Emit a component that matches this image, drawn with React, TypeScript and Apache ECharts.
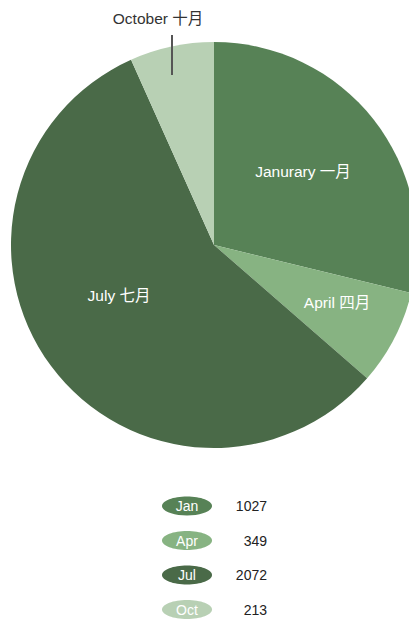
import React, { useEffect, useRef } from "react";
import * as echarts from "echarts";

const months = ["Jan", "Apr", "Jul", "Oct"];
const sliceLabels = ["Janurary 一月", "April 四月", "July 七月", "October 十月"];
const totals = [1027, 349, 2072, 213];
// share of the circle (percent)
const sliceShares = [28.8, 7.6, 56.9, 6.7];

const palette = ["#578256", "#87b382", "#4a6a48", "#b8d0b4"];
const FONT = "'Liberation Sans', Arial, 'Noto Sans CJK SC', sans-serif";

export default function App() {
  const ref = useRef<HTMLDivElement>(null);
  useEffect(() => {
    document.body.style.margin = "0";
    const chart = echarts.init(ref.current!, null, { renderer: "svg" });
    const labelPos: Record<number, [number, number]> = {
      0: [303, 171],
      1: [337, 302],
      2: [119, 295],
      3: [158, 18],
    };
    const rowY = [506, 540.5, 575, 609.5];
    const graphics: any[] = [
      {
        type: "line",
        z: 100,
        shape: { x1: 172, y1: 35, x2: 172, y2: 75 },
        style: { stroke: "#555", lineWidth: 2 },
      },
    ];
    months.forEach((m, i) => {
      graphics.push({
        type: "ellipse",
        shape: { cx: 187, cy: rowY[i], rx: 25, ry: 9.5 },
        style: { fill: palette[i] },
      });
      graphics.push({
        type: "text",
        x: 187,
        y: rowY[i],
        style: {
          text: m,
          fill: "#fff",
          font: `14px ${FONT}`,
          align: "center",
          verticalAlign: "middle",
        },
      });
      graphics.push({
        type: "text",
        x: 267,
        y: rowY[i],
        style: {
          text: String(totals[i]),
          fill: "#222",
          font: `14px ${FONT}`,
          align: "right",
          verticalAlign: "middle",
        },
      });
    });
    chart.setOption({
      animation: false,
      graphic: graphics,
      series: [
        {
          type: "pie",
          center: [214, 245],
          radius: [0, 203],
          startAngle: 90,
          clockwise: true,
          silent: true,
          label: {
            show: true,
            position: "inside",
            color: "#fff",
            fontSize: 15.5,
            fontFamily: FONT,
            formatter: (p: any) => sliceLabels[p.dataIndex],
          },
          labelLine: { show: false },
          labelLayout: (p: any) => {
            const pos = labelPos[p.dataIndex];
            return {
              x: pos[0],
              y: pos[1],
              align: "center",
              verticalAlign: "middle",
            };
          },
          data: months.map((m, i) =>
            i === 3
              ? {
                  name: m,
                  value: sliceShares[i],
                  itemStyle: { color: palette[i] },
                  label: { position: "outside", color: "#333" },
                  labelLine: { show: false },
                }
              : { name: m, value: sliceShares[i], itemStyle: { color: palette[i] } }
          ),
        },
      ],
    });
    return () => chart.dispose();
  }, []);
  return <div ref={ref} style={{ width: 409, height: 621 }} />;
}
